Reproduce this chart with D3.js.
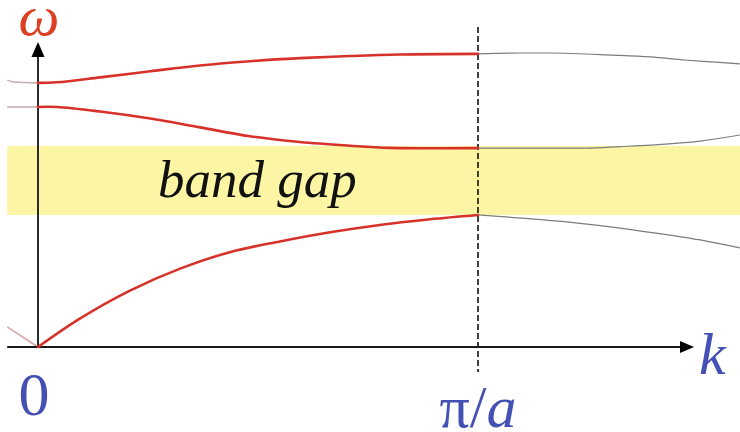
<!DOCTYPE html>
<html>
<head>
<meta charset="utf-8">
<script src="https://cdn.jsdelivr.net/npm/d3@7"></script>
<style>
  html, body { margin: 0; padding: 0; background: #fff; }
  svg { display: block; }
</style>
</head>
<body>
<svg id="chart" width="740" height="432"></svg>
<script>
// Dispersion relation ω(k) for a 1D lattice: k in units of π/a, ω in arbitrary units.

// First Brillouin zone (0 .. π/a), drawn in red
const band1K = [0, 0.095, 0.209, 0.323, 0.436, 0.55, 0.664, 0.777, 0.891, 1];
const band1W = [0, 0.093, 0.185, 0.257, 0.311, 0.346, 0.376, 0.400, 0.419, 0.433];
const band2K = [0, 0.043, 0.141, 0.255, 0.368, 0.482, 0.595, 0.709, 0.80, 1];
const band2W = [0.787, 0.787, 0.772, 0.749, 0.720, 0.691, 0.672, 0.660, 0.653, 0.652];
const band3K = [0, 0.043, 0.141, 0.255, 0.368, 0.482, 0.595, 0.709, 0.823, 1];
const band3W = [0.866, 0.868, 0.884, 0.904, 0.923, 0.937, 0.947, 0.954, 0.959, 0.961];

// Continuation below k = 0 (faint)
const band1LeftK = [-0.07, 0];
const band1LeftW = [0.066, 0];
const band2LeftK = [-0.07, 0];
const band2LeftW = [0.787, 0.787];
const band3LeftK = [-0.07, -0.055, 0];
const band3LeftW = [0.875, 0.869, 0.866];

// Continuation beyond π/a (thin grey)
const band1RightK = [1, 1.202, 1.352, 1.505, 1.595];
const band1RightW = [0.433, 0.410, 0.384, 0.351, 0.325];
const band2RightK = [1, 1.248, 1.323, 1.391, 1.505, 1.595];
const band2RightW = [0.652, 0.652, 0.657, 0.662, 0.675, 0.695];
const band3RightK = [1, 1.095, 1.164, 1.307, 1.391, 1.470, 1.539, 1.595];
const band3RightW = [0.961, 0.964, 0.964, 0.957, 0.951, 0.941, 0.934, 0.928];

// Forbidden frequency range
const gapW = [0.433, 0.659];
const gapLabel = "band gap";

// Axis labels
const axisLabelW = "ω";
const axisLabelK = "k";
const tickZero = "0";
const tickZone = ["π/", "a"];

const svg = d3.select("#chart");
const W = 740;

const x = d3.scaleLinear().domain([0, 1]).range([38, 478]);
const y = d3.scaleLinear().domain([0, 1]).range([347, 42]);

const zip = (ks, ws) => ks.map((k, i) => [k, ws[i]]);
const thin = d3.line().x(d => x(d[0])).y(d => y(d[1])).curve(d3.curveMonotoneX);
const smooth = d3.line().x(d => x(d[0])).y(d => y(d[1])).curve(d3.curveCatmullRom.alpha(0.5));

// band gap strip
svg.append("rect")
  .attr("x", x(-0.07))
  .attr("y", y(gapW[1]))
  .attr("width", W - x(-0.07))
  .attr("height", y(gapW[0]) - y(gapW[1]))
  .attr("fill", "#fcf6a4");

svg.append("text")
  .attr("x", 158)
  .attr("y", 197)
  .attr("font-family", "Liberation Serif, Times New Roman, serif")
  .attr("font-style", "italic")
  .attr("font-size", 53)
  .attr("fill", "#111")
  .text(gapLabel);

// faint continuations
[[band1LeftK, band1LeftW, "#d9a6a6"], [band2LeftK, band2LeftW, "#c4aeae"], [band3LeftK, band3LeftW, "#c4aeae"]]
  .forEach(([k, w, c]) => {
    svg.append("path").attr("d", thin(zip(k, w)))
      .attr("fill", "none").attr("stroke", c).attr("stroke-width", 1.6);
  });

[[band1RightK, band1RightW], [band2RightK, band2RightW], [band3RightK, band3RightW]]
  .forEach(([k, w]) => {
    svg.append("path").attr("d", thin(zip(k, w)))
      .attr("fill", "none").attr("stroke", "#7c7c7c").attr("stroke-width", 1.2);
  });

// zone boundary
svg.append("line")
  .attr("x1", x(1)).attr("x2", x(1))
  .attr("y1", 27).attr("y2", 372)
  .attr("stroke", "#111").attr("stroke-width", 1.6)
  .attr("stroke-dasharray", "6,3");

// axes
svg.append("line")
  .attr("x1", x(-0.07)).attr("x2", 684)
  .attr("y1", y(0)).attr("y2", y(0))
  .attr("stroke", "#1a1a1a").attr("stroke-width", 2);
svg.append("line")
  .attr("x1", x(0)).attr("x2", x(0))
  .attr("y1", y(0)).attr("y2", y(1) + 12)
  .attr("stroke", "#2a2a2a").attr("stroke-width", 2);

svg.append("path")
  .attr("d", `M${x(0)},${y(1)} L${x(0) - 6.5},${y(1) + 15} L${x(0) + 6.5},${y(1) + 15} Z`)
  .attr("fill", "#000");
svg.append("path")
  .attr("d", `M694,${y(0)} L680,${y(0) - 6} L680,${y(0) + 6} Z`)
  .attr("fill", "#000");

// main bands
[[band1K, band1W], [band2K, band2W], [band3K, band3W]]
  .forEach(([k, w]) => {
    svg.append("path").attr("d", smooth(zip(k, w)))
      .attr("fill", "none").attr("stroke", "#d6322a").attr("stroke-width", 2.6)
      .attr("stroke-linecap", "round");
  });

// labels
const serif = "Liberation Serif, Times New Roman, serif";
svg.append("text")
  .attr("x", 39).attr("y", 35)
  .attr("text-anchor", "middle")
  .attr("font-family", serif).attr("font-style", "italic")
  .attr("font-size", 58).attr("fill", "#dd3f22")
  .text(axisLabelW);

svg.append("text")
  .attr("x", 699).attr("y", 374)
  .attr("font-family", serif).attr("font-style", "italic")
  .attr("font-size", 60).attr("fill", "#4450b4")
  .text(axisLabelK);

svg.append("text")
  .attr("x", 34).attr("y", 415)
  .attr("text-anchor", "middle")
  .attr("font-family", serif)
  .attr("font-size", 62).attr("fill", "#4450b4")
  .text(tickZero);

const zone = svg.append("text")
  .attr("x", x(1)).attr("y", 427)
  .attr("text-anchor", "middle")
  .attr("font-family", serif)
  .attr("font-size", 60).attr("fill", "#4450b4");
zone.append("tspan").text(tickZone[0]);
zone.append("tspan").attr("font-style", "italic").text(tickZone[1]);
</script>
</body>
</html>
